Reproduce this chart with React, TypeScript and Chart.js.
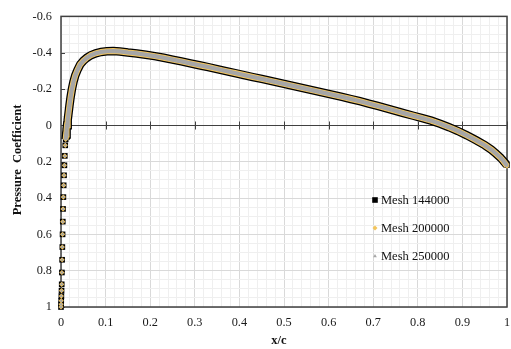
import { useEffect, useRef } from 'react';
import { Chart, registerables } from 'chart.js';

Chart.register(...registerables);

// Chordwise stations x/c (shared by the three meshes)
const xOverC = [
  0.0, 0.0002, 0.0005, 0.0008, 0.0012, 0.0016, 0.002, 0.0025, 0.003, 0.0035, 0.004,
  0.0046, 0.0053, 0.006, 0.0068, 0.0076, 0.0085, 0.0095, 0.0105, 0.0115, 0.0125, 0.0135,
  0.015, 0.017, 0.019, 0.0215, 0.0245, 0.028, 0.032, 0.037, 0.043, 0.05, 0.058, 0.067,
  0.078, 0.09, 0.103, 0.117, 0.132,
  0.15, 0.17, 0.19, 0.21, 0.23, 0.25, 0.27, 0.29, 0.31, 0.33, 0.35, 0.37, 0.39, 0.41,
  0.43, 0.45, 0.47, 0.49, 0.51, 0.53, 0.55, 0.57, 0.59, 0.61, 0.63, 0.65, 0.67, 0.69,
  0.71, 0.73, 0.75, 0.77, 0.79, 0.81, 0.83, 0.85, 0.87, 0.89, 0.91, 0.93, 0.95, 0.965,
  0.975, 0.985, 0.992, 0.997, 1.0,
];

const cpMesh144000 = [
  1.0, 0.985, 0.965, 0.94, 0.91, 0.875, 0.81, 0.74, 0.67, 0.6, 0.53,
  0.46, 0.395, 0.33, 0.275, 0.22, 0.168, 0.11, 0.077, 0.05, 0.022, 0.0,
  -0.03, -0.07, -0.11, -0.155, -0.2, -0.24, -0.275, -0.305, -0.335, -0.355, -0.372, -0.386,
  -0.397, -0.404, -0.408, -0.409, -0.407,
  -0.401, -0.396, -0.389, -0.381, -0.372, -0.362, -0.352, -0.341, -0.331, -0.321, -0.31, -0.299, -0.288, -0.277,
  -0.266, -0.256, -0.245, -0.234, -0.223, -0.212, -0.201, -0.19, -0.179, -0.168, -0.157, -0.145, -0.133, -0.12,
  -0.107, -0.094, -0.08, -0.066, -0.053, -0.04, -0.026, -0.009, 0.01, 0.031, 0.055, 0.081, 0.109, 0.134,
  0.155, 0.177, 0.196, 0.211, 0.218,
];

const cpMesh200000 = [
  1.0, 0.985, 0.965, 0.94, 0.91, 0.875, 0.81, 0.74, 0.67, 0.6, 0.53,
  0.46, 0.395, 0.33, 0.275, 0.22, 0.168, 0.11, 0.077, 0.05, 0.022, 0.0,
  -0.03, -0.07, -0.11, -0.155, -0.2, -0.24, -0.275, -0.305, -0.335, -0.355, -0.372, -0.386,
  -0.397, -0.404, -0.408, -0.409, -0.407,
  -0.401, -0.396, -0.389, -0.381, -0.372, -0.362, -0.352, -0.341, -0.331, -0.321, -0.31, -0.299, -0.288, -0.277,
  -0.266, -0.256, -0.245, -0.234, -0.223, -0.212, -0.201, -0.19, -0.179, -0.168, -0.157, -0.145, -0.133, -0.12,
  -0.107, -0.094, -0.08, -0.066, -0.053, -0.04, -0.026, -0.009, 0.01, 0.031, 0.055, 0.081, 0.109, 0.134,
  0.155, 0.177, 0.197, 0.213, 0.224,
];

const cpMesh250000 = [
  1.0, 0.985, 0.965, 0.94, 0.91, 0.875, 0.81, 0.74, 0.67, 0.6, 0.53,
  0.46, 0.395, 0.33, 0.275, 0.22, 0.168, 0.11, 0.077, 0.05, 0.022, 0.0,
  -0.03, -0.07, -0.11, -0.155, -0.2, -0.24, -0.275, -0.305, -0.335, -0.355, -0.372, -0.386,
  -0.397, -0.404, -0.408, -0.409, -0.407,
  -0.401, -0.396, -0.389, -0.381, -0.372, -0.362, -0.352, -0.341, -0.331, -0.321, -0.31, -0.299, -0.288, -0.277,
  -0.266, -0.256, -0.245, -0.234, -0.223, -0.212, -0.201, -0.19, -0.179, -0.168, -0.157, -0.145, -0.133, -0.12,
  -0.107, -0.094, -0.08, -0.066, -0.053, -0.04, -0.026, -0.009, 0.01, 0.031, 0.055, 0.081, 0.109, 0.134,
  0.155, 0.177, 0.196, 0.212, 0.222,
];

const seriesNames = ['Mesh 144000', 'Mesh 200000', 'Mesh 250000'];
const xTickValues = [0, 0.1, 0.2, 0.3, 0.4, 0.5, 0.6, 0.7, 0.8, 0.9, 1];
const yTickValues = [-0.6, -0.4, -0.2, 0, 0.2, 0.4, 0.6, 0.8, 1];

const SERIF = '"Liberation Serif", "Times New Roman", serif';
const BLACK = '#000000';
const YELLOW = '#f3c55c';
const GREY = '#a6a6a6';
const FRAME = '#404040';

const listed = (v: number, list: number[]) => list.some((t) => Math.abs(t - v) < 1e-6);
const fmt = (v: number) => String(Math.round(v * 10) / 10);

const toPoints = (cp: number[]) => xOverC.map((x, i) => ({ x, y: cp[i] }));

// Stagnation-region stations are spread out vertically: show only their markers
const hideSparse = (c: any) =>
  c.p0.parsed.x < 0.012 && c.p0.parsed.y > 0.06 && c.p1.parsed.y > 0.06 ? 'rgba(0,0,0,0)' : undefined;

function drawMarker(ctx: CanvasRenderingContext2D, style: string, x: number, y: number, color: string) {
  ctx.fillStyle = color;
  ctx.beginPath();
  if (style === 'rect') {
    ctx.rect(x - 2.8, y - 2.8, 5.6, 5.6);
  } else if (style === 'rectRot') {
    ctx.moveTo(x, y - 2.5);
    ctx.lineTo(x + 2.5, y);
    ctx.lineTo(x, y + 2.5);
    ctx.lineTo(x - 2.5, y);
    ctx.closePath();
  } else {
    ctx.moveTo(x, y - 2);
    ctx.lineTo(x + 1.8, y + 1.3);
    ctx.lineTo(x - 1.8, y + 1.3);
    ctx.closePath();
  }
  ctx.fill();
}

const framePlugin = {
  id: 'cpFrame',
  beforeDatasetsDraw(chart: any) {
    const { ctx, chartArea: a, scales } = chart;
    const xs = scales.x;
    const ys = scales.y;
    ctx.save();
    ctx.strokeStyle = FRAME;
    ctx.lineWidth = 1;
    ctx.beginPath();
    const y0 = Math.round(ys.getPixelForValue(0)) + 0.5;
    ctx.moveTo(a.left, y0);
    ctx.lineTo(a.right, y0);
    for (const v of xTickValues) {
      if (v === 0) continue;
      const px = Math.round(xs.getPixelForValue(v)) + 0.5;
      ctx.moveTo(px, y0 - 4);
      ctx.lineTo(px, y0 + 4);
    }
    for (const v of yTickValues) {
      const py = Math.round(ys.getPixelForValue(v)) + 0.5;
      ctx.moveTo(a.left, py);
      ctx.lineTo(a.left + 4, py);
    }
    ctx.stroke();
    ctx.lineWidth = 1.5;
    ctx.strokeRect(a.left, a.top, a.right - a.left, a.bottom - a.top);
    ctx.restore();
  },
  afterDraw(chart: any) {
    const { ctx } = chart;
    ctx.save();
    // legend inside the plot
    const rows = [200, 228, 256];
    chart.data.datasets.forEach((ds: any, i: number) => {
      drawMarker(ctx, ds.pointStyle, 375, rows[i], ds.backgroundColor);
      ctx.fillStyle = '#111';
      ctx.font = `12.5px ${SERIF}`;
      ctx.textAlign = 'left';
      ctx.textBaseline = 'middle';
      ctx.fillText(ds.label, 381, rows[i] + 0.5);
    });
    // axis titles
    ctx.fillStyle = '#111';
    ctx.font = `bold 12.5px ${SERIF}`;
    ctx.textAlign = 'center';
    ctx.textBaseline = 'middle';
    ctx.fillText('x/c', 279, 341);
    ctx.translate(18, 160);
    ctx.rotate(-Math.PI / 2);
    ctx.fillText('Pressure  Coefficient', 0, 0);
    ctx.restore();
  },
};

export default function App() {
  const canvasRef = useRef<HTMLCanvasElement | null>(null);

  useEffect(() => {
    const canvas = canvasRef.current;
    if (!canvas) return;
    const common = {
      showLine: true,
      fill: false,
      tension: 0,
      clip: false as const,
      pointBorderWidth: 0,
      segment: { borderColor: hideSparse },
    };
    const chart = new Chart(canvas, {
      type: 'scatter',
      data: {
        datasets: [
          {
            ...common,
            label: seriesNames[0],
            data: toPoints(cpMesh144000),
            order: 3,
            borderColor: BLACK,
            backgroundColor: BLACK,
            borderWidth: 8.5,
            pointStyle: 'rect',
            pointRadius: 4,
          },
          {
            ...common,
            label: seriesNames[1],
            data: toPoints(cpMesh200000),
            order: 2,
            borderColor: YELLOW,
            backgroundColor: YELLOW,
            borderWidth: 6,
            pointStyle: 'rectRot',
            pointRadius: 2.6,
          },
          {
            ...common,
            label: seriesNames[2],
            data: toPoints(cpMesh250000),
            order: 1,
            borderColor: GREY,
            backgroundColor: GREY,
            borderWidth: 4.2,
            pointStyle: 'triangle',
            pointRadius: 2,
          },
        ],
      },
      options: {
        responsive: false,
        animation: false,
        devicePixelRatio: 1,
        layout: { padding: { top: 12, right: 1, left: 0, bottom: 0 } },
        plugins: { legend: { display: false }, tooltip: { enabled: false } },
        scales: {
          x: {
            type: 'linear',
            min: 0,
            max: 1,
            border: { display: false },
            grid: {
              drawTicks: false,
              color: (c: any) => (c.tick && listed(c.tick.value, xTickValues) ? '#d9d9d9' : '#efefef'),
            },
            ticks: {
              stepSize: 0.02,
              autoSkip: false,
              maxRotation: 0,
              padding: 8,
              color: '#1a1a1a',
              font: { family: SERIF, size: 12.3 },
              callback: (v: any) => (listed(Number(v), xTickValues) ? fmt(Number(v)) : ''),
            },
            afterFit: (s: any) => {
              s.height = 42;
              s.paddingLeft = 0;
              s.paddingRight = 0;
            },
          },
          y: {
            type: 'linear',
            reverse: true,
            min: -0.6,
            max: 1,
            border: { display: false },
            grid: {
              drawTicks: false,
              color: (c: any) => (c.tick && listed(c.tick.value, yTickValues) ? '#d9d9d9' : '#efefef'),
            },
            ticks: {
              stepSize: 0.05,
              autoSkip: false,
              padding: 9,
              color: '#1a1a1a',
              font: { family: SERIF, size: 12.3 },
              callback: (v: any) => (listed(Number(v), yTickValues) ? fmt(Number(v)) : ''),
            },
            afterFit: (s: any) => {
              s.width = 61;
            },
          },
        },
      },
      plugins: [framePlugin],
    } as any);
    return () => chart.destroy();
  }, []);

  return (
    <div style={{ position: 'absolute', left: 0, top: 0, width: 511, height: 349, background: '#fff' }}>
      <canvas ref={canvasRef} width={511} height={349} />
    </div>
  );
}
